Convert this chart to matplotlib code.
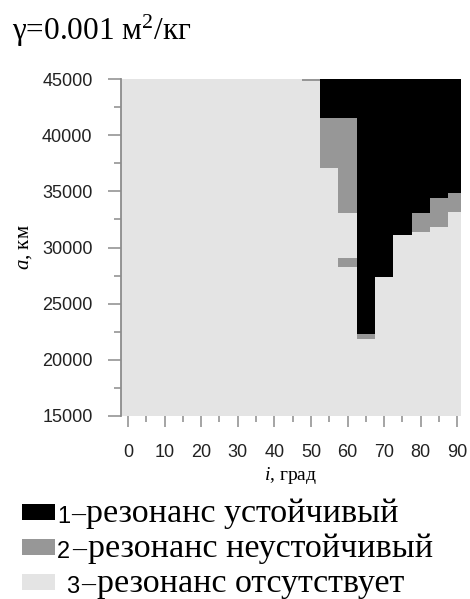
import matplotlib
matplotlib.use("Agg")
import matplotlib.pyplot as plt
from matplotlib.patches import Rectangle
from matplotlib.ticker import MultipleLocator

plt.rcParams['mathtext.fontset'] = 'custom'
plt.rcParams['mathtext.rm'] = 'Liberation Serif'
plt.rcParams['mathtext.it'] = 'Liberation Serif:italic'

# inclination grid step, deg
di = 5
# 1 - stable resonance: column centre and lower edge of the region (up to 45000 km)
stable_i = [55, 60, 65, 70, 75, 80, 85, 90]
stable_lo = [41500, 41500, 22300, 27350, 31100, 33050, 34400, 34850]
# 2 - unstable resonance: column centre, lower and upper semi-axis, km
unstable_i = [50, 55, 60, 60, 65, 80, 85, 90]
unstable_lo = [44820, 37100, 33100, 28300, 21850, 31400, 31850, 33150]
unstable_hi = [45000, 41500, 41500, 29050, 22300, 33050, 34400, 34850]
a_top = 45000

c_stab, c_unst, c_none = '#000000', '#979797', '#e4e4e4'

legend_num = ['1', '2', '3']
legend_txt = ['резонанс устойчивый', 'резонанс неустойчивый', 'резонанс отсутствует']

fig = plt.figure(figsize=(4.7, 5.99), dpi=100)
ax = fig.add_axes([121/470, 1-416/599, 340/470, 337/599])
ax.set_facecolor(c_none)

ax.bar(stable_i, [a_top-lo for lo in stable_lo], bottom=stable_lo, width=di,
       color=c_stab, linewidth=0)
ax.bar(unstable_i, [hi-lo for lo, hi in zip(unstable_lo, unstable_hi)], bottom=unstable_lo,
       width=di, color=c_unst, linewidth=0)

ax.set_xlim(-1.9, 91)
ax.set_ylim(15000, 45000)
ax.xaxis.set_major_locator(MultipleLocator(10))
ax.xaxis.set_minor_locator(MultipleLocator(5))
ax.yaxis.set_major_locator(MultipleLocator(5000))
ax.yaxis.set_minor_locator(MultipleLocator(2500))
ax.set_xticks(range(0, 91, 10))
for s in ['top', 'right', 'bottom']:
    ax.spines[s].set_visible(False)
ax.spines['left'].set_color('#8c8c8c')
ax.spines['left'].set_linewidth(1.3)
ax.tick_params(which='both', color='#8c8c8c', width=1.1, labelsize=13)
ax.tick_params(axis='y', which='major', length=9.5, pad=11)
ax.tick_params(axis='y', which='minor', length=5)
ax.tick_params(axis='x', which='major', length=8, pad=12)
ax.tick_params(axis='x', which='minor', length=4.5)
for lab in ax.get_xticklabels() + ax.get_yticklabels():
    lab.set_fontfamily('Liberation Sans')
    lab.set_color('#222222')

ax.set_xlabel('$i$, град', family='Liberation Serif', fontsize=14, labelpad=3)
ax.set_ylabel('$a$, км', family='Liberation Serif', fontsize=15, labelpad=6)

fig.text(12/470, 1-40/599, 'γ=0.001 м$^{2}$/кг', family='Liberation Serif',
         fontsize=22.5, va='baseline')

# legend drawn by hand under the axes: swatch, number, dash, text
num_x = [57, 57, 66]
dash_x = [71, 72, 81]
txt_x = [86, 88, 97]
for k, col in enumerate([c_stab, c_unst, c_none]):
    y0 = 1-(520+35*k)/599
    yb = 1-(522+35*k)/599
    fig.patches.append(Rectangle((22/470, y0), 33/470, 16/599, transform=fig.transFigure,
                                 facecolor=col, edgecolor='none'))
    fig.text(num_x[k]/470, yb-1/599, legend_num[k], family='Liberation Sans',
             fontsize=17, va='baseline')
    fig.text(dash_x[k]/470, yb, '–', family='Liberation Serif',
             fontsize=20, va='baseline')
    fig.text(txt_x[k]/470, yb, legend_txt[k], family='Liberation Serif',
             fontsize=24.5, va='baseline')

fig.savefig('out.png', dpi=100)
